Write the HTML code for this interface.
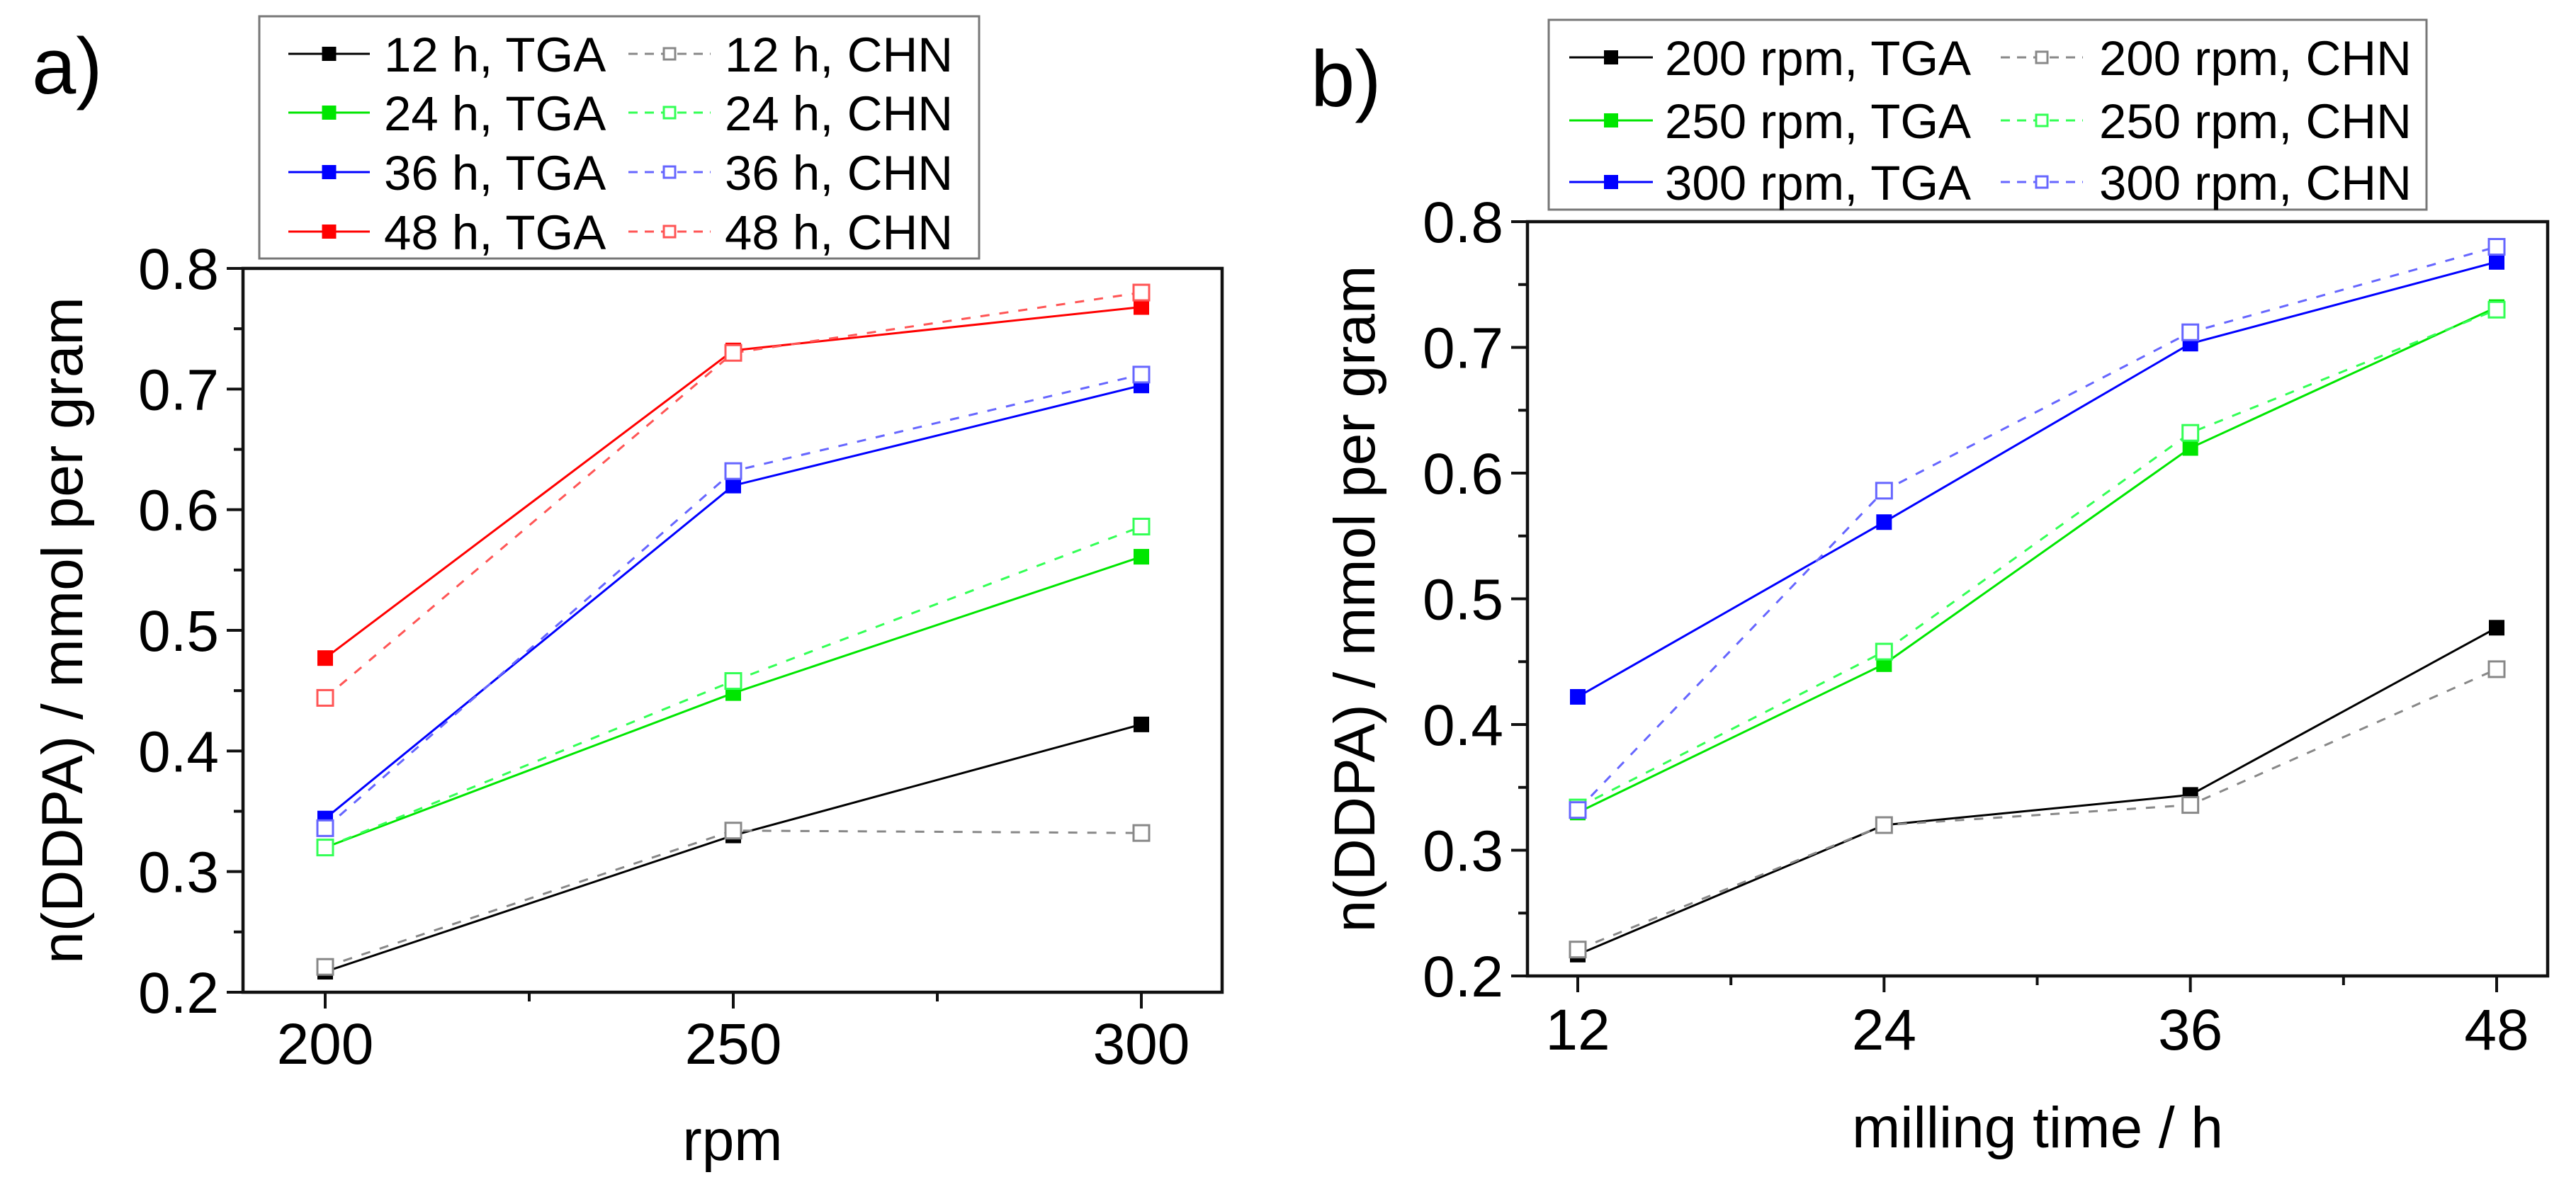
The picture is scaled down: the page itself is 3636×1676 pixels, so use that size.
<!DOCTYPE html>
<html><head><meta charset="utf-8"><style>
html,body{margin:0;padding:0;background:#fff;}
svg{display:block;font-family:"Liberation Sans",Arial,sans-serif;}
</style></head><body>
<svg id="fig" width="3636" height="1676" viewBox="0 0 3636 1676" xmlns="http://www.w3.org/2000/svg"></svg>
<script>
// ---- Panel a data (x = rpm) ----
const aCategories = [200, 250, 300];
const a12TGA = [0.217, 0.330, 0.422];
const a12CHN = [0.221, 0.334, 0.332];
const a24TGA = [0.320, 0.448, 0.561];
const a24CHN = [0.320, 0.458, 0.586];
const a36TGA = [0.344, 0.620, 0.703];
const a36CHN = [0.336, 0.632, 0.712];
const a48TGA = [0.477, 0.732, 0.768];
const a48CHN = [0.444, 0.730, 0.780];
// ---- Panel b data (x = milling time) ----
const bCategories = [12, 24, 36, 48];
const b200TGA = [0.217, 0.320, 0.344, 0.477];
const b200CHN = [0.221, 0.320, 0.336, 0.444];
const b250TGA = [0.330, 0.448, 0.620, 0.732];
const b250CHN = [0.334, 0.458, 0.632, 0.730];
const b300TGA = [0.422, 0.561, 0.703, 0.768];
const b300CHN = [0.332, 0.586, 0.712, 0.780];
const yTicks = ["0.2","0.3","0.4","0.5","0.6","0.7","0.8"];
const aXTicks = ["200","250","300"];
const bXTicks = ["12","24","36","48"];
const aLegendLabels = ["12 h, TGA","12 h, CHN","24 h, TGA","24 h, CHN","36 h, TGA","36 h, CHN","48 h, TGA","48 h, CHN"];
const bLegendLabels = ["200 rpm, TGA","200 rpm, CHN","250 rpm, TGA","250 rpm, CHN","300 rpm, TGA","300 rpm, CHN"];

const NS = "http://www.w3.org/2000/svg";
const svg = document.getElementById('fig');
function mk(tag, attrs, parent) {
  const e = document.createElementNS(NS, tag);
  for (const k in attrs) e.setAttribute(k, attrs[k]);
  (parent || svg).appendChild(e);
  return e;
}
const COL = {black:"#000", green:"#00e600", blue:"#0000ff", red:"#ff0000"};
const LIGHT = {black:"#888", green:"#33ff55", blue:"#6666ff", red:"#ff5555"};

function panel(cfg) {
  const g = mk('g', {});
  
  
  const xs = v => cfg.x0px + (v - cfg.cats[0]) / (cfg.cats[cfg.cats.length-1] - cfg.cats[0]) * (cfg.x1px - cfg.x0px);
  const ys = v => cfg.bottom - (v - 0.2) / 0.6 * (cfg.bottom - cfg.top);
  // ticks y
  for (let i = 0; i <= 12; i++) {
    const v = 0.2 + i * 0.05, y = ys(v);
    const t = mk('line', {x1: cfg.left - (i % 2 ? 13 : 23), x2: cfg.left, y1: y, y2: y, stroke: "#111", "stroke-width": 4}, g);
    
    
  }
  yTicks.forEach((lab, i) => {
    const t = mk('text', {x: cfg.left - 34, y: ys(parseFloat(lab)) + 29, "font-size": 82, "text-anchor": "end"}, g);
    t.textContent = lab;
    
    
  });
  // x ticks (major + minor between)
  cfg.cats.forEach((c, i) => {
    const x = xs(c);
    const t = mk('line', {x1: x, x2: x, y1: cfg.bottom, y2: cfg.bottom + 23, stroke: "#111", "stroke-width": 4}, g);
    
    
    const l = mk('text', {x: x, y: cfg.xLabY, "font-size": 82, "text-anchor": "middle"}, g);
    l.textContent = cfg.xTickLabels[i];
    
    
    if (i < cfg.cats.length - 1) {
      const xm = xs((c + cfg.cats[i+1]) / 2);
      const m = mk('line', {x1: xm, x2: xm, y1: cfg.bottom, y2: cfg.bottom + 13, stroke: "#111", "stroke-width": 4}, g);
      
      
    }
  });
  // series
  cfg.series.forEach(s => {
    const pts = s.vals.map((v, i) => xs(cfg.cats[i]) + "," + ys(v)).join(" ");
    const pl = mk('polyline', {points: pts, fill: "none", stroke: s.open ? LIGHT[s.c] : COL[s.c], "stroke-width": 3,
      "stroke-dasharray": s.open ? "13 14" : "none"}, g);
    
    
  });
  cfg.series.forEach(s => {
    s.vals.forEach((v, i) => {
      const x = xs(cfg.cats[i]), y = ys(v);
      const r = mk('rect', s.open ? {x: x-11, y: y-11, width: 22, height: 22, fill: "#fff", stroke: LIGHT[s.c], "stroke-width": 3}
                                  : {x: x-11, y: y-11, width: 22, height: 22, fill: COL[s.c]}, g);
      
      
    });
  });
  // frame
  const f = mk('rect', {x: cfg.left, y: cfg.top, width: cfg.right - cfg.left, height: cfg.bottom - cfg.top, fill: "none", stroke: "#111", "stroke-width": 4.5}, g);
  
  
  // axis titles
  const xt = mk('text', {x: (cfg.left + cfg.right) / 2, y: cfg.xTitleY, "font-size": 82, "text-anchor": "middle"}, g);
  xt.textContent = cfg.xTitle;
  
  
  const cy = (cfg.top + cfg.bottom) / 2;
  const yt = mk('text', {x: cfg.yTitleX, y: cy, "font-size": 82, "text-anchor": "middle", transform: `rotate(-90 ${cfg.yTitleX} ${cy})`}, g);
  yt.textContent = "n(DDPA) / mmol per gram";
  
  
  // panel label
  const pl = mk('text', {x: cfg.panelX, y: cfg.panelY, "font-size": 112}, g);
  pl.textContent = cfg.panelLabel;
  
  
  // legend
  const L = cfg.legend;
  const lb = mk('rect', {x: L.x0, y: L.y0, width: L.x1 - L.x0, height: L.y1 - L.y0, fill: "#fff", stroke: "#777", "stroke-width": 3}, g);
  
  
  cfg.series.forEach((s, k) => {
    const row = Math.floor(k / 2), col = k % 2;
    const y = L.rows[row];
    const c = L.cols[col];
    const eg = mk('g', {}, g);
    
    
    mk('line', {x1: c.l0, x2: c.l1, y1: y, y2: y, stroke: s.open ? LIGHT[s.c] : COL[s.c], "stroke-width": 3, "stroke-dasharray": s.open ? "13 10" : "none"}, eg);
    const m = (c.l0 + c.l1) / 2;
    if (s.open) mk('rect', {x: m-8, y: y-8, width: 16, height: 16, fill: "#fff", stroke: LIGHT[s.c], "stroke-width": 3}, eg);
    else mk('rect', {x: m-10, y: y-10, width: 20, height: 20, fill: COL[s.c]}, eg);
    const t = mk('text', {x: c.t, y: y + 25, "font-size": 69}, eg);
    t.textContent = cfg.legendLabels[k];
  });
}

panel({
  name: 'panel-a-chart', cats: aCategories, xTickLabels: aXTicks,
  left: 343, right: 1725, top: 379, bottom: 1401, x0px: 459, x1px: 1611,
  xLabY: 1502, xTitleY: 1638, xTitle: "rpm", yTitleX: 116,
  panelX: 45, panelY: 132, panelLabel: "a)",
  legendLabels: aLegendLabels,
  legend: {x0: 366, y0: 23, x1: 1382, y1: 365, rows: [76, 159, 243, 327],
    cols: [{l0: 407, l1: 522, t: 542}, {l0: 887, l1: 1003, t: 1023}]},
  series: [
    {name:'12h-tga', c:'black', open:false, vals:a12TGA}, {name:'12h-chn', c:'black', open:true, vals:a12CHN},
    {name:'24h-tga', c:'green', open:false, vals:a24TGA}, {name:'24h-chn', c:'green', open:true, vals:a24CHN},
    {name:'36h-tga', c:'blue', open:false, vals:a36TGA}, {name:'36h-chn', c:'blue', open:true, vals:a36CHN},
    {name:'48h-tga', c:'red', open:false, vals:a48TGA}, {name:'48h-chn', c:'red', open:true, vals:a48CHN}
  ]
});
panel({
  name: 'panel-b-chart', cats: bCategories, xTickLabels: bXTicks,
  left: 2156, right: 3596, top: 313, bottom: 1378, x0px: 2227, x1px: 3524,
  xLabY: 1482, xTitleY: 1620, xTitle: "milling time / h", yTitleX: 1940,
  panelX: 1850, panelY: 150, panelLabel: "b)",
  legendLabels: bLegendLabels,
  legend: {x0: 2186, y0: 28, x1: 3425, y1: 296, rows: [81, 170, 257],
    cols: [{l0: 2215, l1: 2333, t: 2350}, {l0: 2824, l1: 2940, t: 2963}]},
  series: [
    {name:'200rpm-tga', c:'black', open:false, vals:b200TGA}, {name:'200rpm-chn', c:'black', open:true, vals:b200CHN},
    {name:'250rpm-tga', c:'green', open:false, vals:b250TGA}, {name:'250rpm-chn', c:'green', open:true, vals:b250CHN},
    {name:'300rpm-tga', c:'blue', open:false, vals:b300TGA}, {name:'300rpm-chn', c:'blue', open:true, vals:b300CHN}
  ]
});
</script>
</body></html>
